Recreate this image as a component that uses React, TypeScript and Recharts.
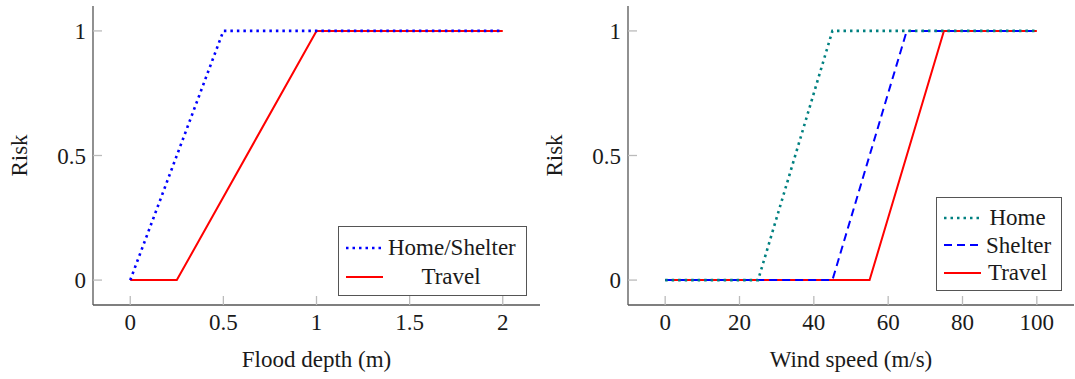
import { LineChart, Line, XAxis, YAxis, Label, Legend } from "recharts"

// flood panel
const floodHomeShelterDepth = [0, 0.5, 2]
const floodHomeShelterRisk = [0, 1, 1]
const floodTravelDepth = [0, 0.25, 1, 2]
const floodTravelRisk = [0, 0, 1, 1]

// wind panel
const windHomeSpeed = [0, 25, 45, 100]
const windHomeRisk = [0, 0, 1, 1]
const windShelterSpeed = [0, 45, 65, 100]
const windShelterRisk = [0, 0, 1, 1]
const windTravelSpeed = [0, 55, 75, 100]
const windTravelRisk = [0, 0, 1, 1]

const floodTicks = [0, 0.5, 1, 1.5, 2]
const windTicks = [0, 20, 40, 60, 80, 100]
const riskTicks = [0, 0.5, 1]

const FONT = "Liberation Serif, serif"
const INK = "#1a1a1a"
const FRAME = "#555"
const TICK = "#bbb"
const tickFont = { fill: INK, fontSize: 23, fontFamily: FONT }

const DOTTED = "2.5 4"
const DASHED = "8 5"

interface Series {
  name: string
  xs: number[]
  ys: number[]
  color: string
  dash?: string
  width: number
}

const toPoints = (xs: number[], ys: number[]) => xs.map((x, i) => ({ x, y: ys[i] }))

const floodHomeShelter: Series = { name: "Home/Shelter", xs: floodHomeShelterDepth, ys: floodHomeShelterRisk, color: "#0000ff", dash: DOTTED, width: 2.6 }
const floodTravel: Series = { name: "Travel", xs: floodTravelDepth, ys: floodTravelRisk, color: "#ff0000", width: 2 }

const windHome: Series = { name: "Home", xs: windHomeSpeed, ys: windHomeRisk, color: "#008080", dash: DOTTED, width: 2.6 }
const windShelter: Series = { name: "Shelter", xs: windShelterSpeed, ys: windShelterRisk, color: "#0000ff", dash: DASHED, width: 2 }
const windTravel: Series = { name: "Travel", xs: windTravelSpeed, ys: windTravelRisk, color: "#ff0000", width: 2 }

function LegendBox({ items, width, height, rowHeight }: { items: Series[]; width: number; height: number; rowHeight: number }) {
  return (
    <div
      style={{
        width,
        height,
        boxSizing: "border-box",
        border: `1.3px solid ${FRAME}`,
        background: "#fff",
        padding: "6px 0",
        fontFamily: FONT,
        fontSize: 23,
        color: INK,
      }}
    >
      {items.map((it) => (
        <div key={it.name} style={{ display: "flex", alignItems: "center", height: rowHeight }}>
          <svg width={37} height={6} style={{ marginLeft: 7, marginRight: 5, flex: "none" }}>
            <line x1={0} y1={3} x2={37} y2={3} stroke={it.color} strokeWidth={it.width} strokeDasharray={it.dash} />
          </svg>
          <span style={{ flex: 1, textAlign: "center", paddingRight: 12, lineHeight: 1 }}>{it.name}</span>
        </div>
      ))}
    </div>
  )
}

interface PanelProps {
  width: number
  yAxisWidth: number
  riskOffset: number
  xDomain: [number, number]
  xTicks: number[]
  xLabel: string
  drawOrder: Series[]
  legendItems: Series[]
  legendBox: { left: number; top: number; width: number; height: number; rowHeight: number }
}

function RiskPanel(p: PanelProps) {
  return (
    <LineChart width={p.width} height={379} margin={{ top: 6, right: 1, bottom: 0, left: 0 }} style={{ fontFamily: FONT }}>
      <XAxis
        xAxisId={0}
        type="number"
        dataKey="x"
        domain={p.xDomain}
        allowDataOverflow
        ticks={p.xTicks}
        height={74}
        tickSize={-9}
        tickMargin={18}
        tickLine={{ stroke: TICK, strokeWidth: 1.3 }}
        axisLine={{ stroke: FRAME, strokeWidth: 1.3 }}
        tick={tickFont}
      >
        <Label value={p.xLabel} position="insideBottom" offset={12} fill={INK} fontSize={23} fontFamily={FONT} />
      </XAxis>
      <XAxis
        xAxisId="top"
        orientation="top"
        type="number"
        dataKey="x"
        domain={p.xDomain}
        allowDataOverflow
        ticks={p.xTicks}
        height={0}
        tickSize={-9}
        tick={false}
        tickLine={{ stroke: TICK, strokeWidth: 1.3 }}
        axisLine={{ stroke: FRAME, strokeWidth: 1.3 }}
      />
      <YAxis
        yAxisId={0}
        type="number"
        domain={[-0.1, 1.1]}
        allowDataOverflow
        ticks={riskTicks}
        width={p.yAxisWidth}
        tickSize={-9}
        tickMargin={16}
        tickLine={{ stroke: TICK, strokeWidth: 1.3 }}
        axisLine={{ stroke: FRAME, strokeWidth: 1.3 }}
        tick={tickFont}
      >
        <Label
          value="Risk"
          angle={-90}
          position="insideLeft"
          offset={p.riskOffset}
          fill={INK}
          fontSize={23}
          fontFamily={FONT}
          style={{ textAnchor: "middle" }}
        />
      </YAxis>
      <YAxis
        yAxisId="right"
        orientation="right"
        type="number"
        domain={[-0.1, 1.1]}
        allowDataOverflow
        ticks={riskTicks}
        width={0}
        tickSize={-9}
        tick={false}
        tickLine={{ stroke: TICK, strokeWidth: 1.3 }}
        axisLine={{ stroke: FRAME, strokeWidth: 1.3 }}
      />
      {p.drawOrder.map((s) => (
        <Line
          key={s.name}
          xAxisId={0}
          yAxisId={0}
          data={toPoints(s.xs, s.ys)}
          dataKey="y"
          name={s.name}
          type="linear"
          stroke={s.color}
          strokeWidth={s.width}
          strokeDasharray={s.dash}
          dot={false}
          activeDot={false}
          isAnimationActive={false}
        />
      ))}
      <Legend
        layout="vertical"
        align="center"
        verticalAlign="middle"
        wrapperStyle={{ left: p.legendBox.left, top: p.legendBox.top, width: p.legendBox.width }}
        content={() => (
          <LegendBox
            items={p.legendItems}
            width={p.legendBox.width}
            height={p.legendBox.height}
            rowHeight={p.legendBox.rowHeight}
          />
        )}
      />
    </LineChart>
  )
}

export default function App() {
  return (
    <div style={{ position: "absolute", left: 0, top: 0, display: "flex", background: "#fff", fontFamily: FONT }}>
      <RiskPanel
        width={541}
        yAxisWidth={93}
        riskOffset={19}
        xDomain={[-0.2, 2.2]}
        xTicks={floodTicks}
        xLabel="Flood depth (m)"
        drawOrder={[floodTravel, floodHomeShelter]}
        legendItems={[floodHomeShelter, floodTravel]}
        legendBox={{ left: 338, top: 226, width: 189, height: 70, rowHeight: 29 }}
      />
      <RiskPanel
        width={534}
        yAxisWidth={87}
        riskOffset={13}
        xDomain={[-10, 110]}
        xTicks={windTicks}
        xLabel="Wind speed (m/s)"
        drawOrder={[windTravel, windShelter, windHome]}
        legendItems={[windHome, windShelter, windTravel]}
        legendBox={{ left: 395, top: 197, width: 126, height: 94, rowHeight: 27.5 }}
      />
    </div>
  )
}
